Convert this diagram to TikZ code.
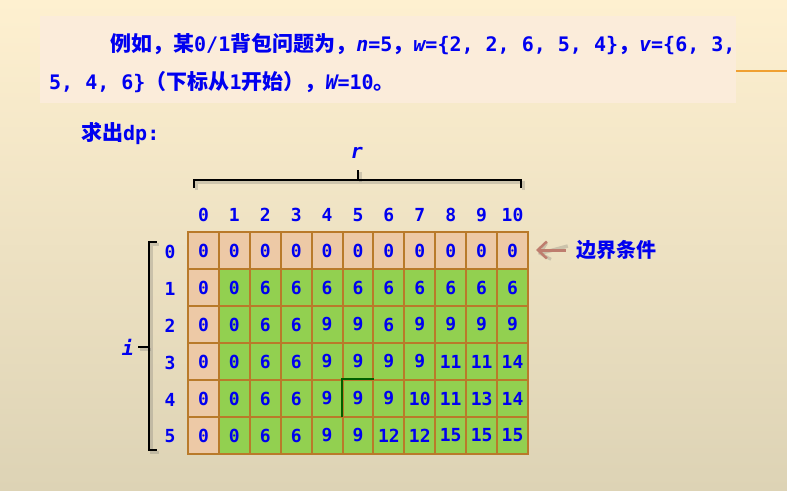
\documentclass[tikz,border=0pt]{standalone}
\usepackage{fontspec}
\usetikzlibrary{arrows.meta}
\newfontfamily\cjkf{Noto Sans CJK SC}
\newfontfamily\monof{DejaVu Sans Mono}
\definecolor{txtblue}{RGB}{0,0,240}
\definecolor{bgtop}{RGB}{254,240,208}
\definecolor{bgmid}{RGB}{244,236,216}
\definecolor{bgbot}{RGB}{221,211,181}
\definecolor{boxbg}{RGB}{251,236,218}
\definecolor{peachc}{RGB}{237,201,166}
\definecolor{greenc}{RGB}{146,208,80}
\definecolor{cellline}{RGB}{185,122,42}
\definecolor{arrowc}{RGB}{190,125,110}
\definecolor{orangeline}{RGB}{240,160,50}
\definecolor{darkgreenc}{RGB}{0,96,0}
\newcommand\zhtxt[1]{{\cjkf\bfseries\fontsize{21}{24}\selectfont #1}}
\newcommand\mntxt[1]{{\monof\bfseries #1}}
\newcommand\mnit[1]{{\monof\bfseries\itshape #1}}
\begin{document}
\begin{tikzpicture}[x=1pt,y=-1pt,
  cell/.style={draw=cellline, line width=2pt, minimum width=30.9pt, minimum height=37pt,
    inner sep=0pt, text=txtblue, font=\monof\bfseries\fontsize{18}{20}\selectfont},
  idx/.style={inner sep=0pt, text=txtblue, font=\monof\bfseries\fontsize{18}{20}\selectfont},
  title/.style={inner sep=0pt, anchor=west, text=txtblue, font=\fontsize{20}{24}\selectfont},
  varlabel/.style={inner sep=0pt, text=txtblue, font=\monof\bfseries\itshape\fontsize{20}{24}\selectfont},
  brace/.style={draw=black, line width=2pt, line join=miter},
  braceshadow/.style={draw=black!60, opacity=0.25, line width=3pt},
  arr/.style={draw=arrowc, line width=3pt, -{Straight Barb[length=9pt,width=17pt,line width=2.5pt]}},
  arrshadow/.style={draw=black!60, opacity=0.25, line width=3.5pt, -{Straight Barb[length=9pt,width=17pt,line width=3pt]}}
]
\useasboundingbox (0,0) rectangle (787,490);
\shade[top color=bgtop, middle color=bgmid, bottom color=bgbot] (0,0) rectangle (787,490);
% text box
\fill[boxbg] (40,16) rectangle (736,103);
\draw[orangeline, line width=1.5pt] (736,71) -- (787,71);
% title
\node[title] (t1) at (110,44) {\zhtxt{例如，某}\mntxt{0/1}\zhtxt{背包问题为，}\mnit{n}\mntxt{=5}\zhtxt{，}\mnit{w}\mntxt{=\{2, 2, 6, 5, 4\}}\zhtxt{，}\mnit{v}\mntxt{=\{6, 3,}};
\node[title] (t2) at (49,82) {\mntxt{5, 4, 6\}}\zhtxt{（下标从}\mntxt{1}\zhtxt{开始），}\mnit{W}\mntxt{=10}\zhtxt{。}};
\node[title] (t3) at (81,134) {\zhtxt{求出}\mntxt{dp:}};
% table cells
\foreach \r/\vals in {0/{0,0,0,0,0,0,0,0,0,0,0},
                      1/{0,0,6,6,6,6,6,6,6,6,6},
                      2/{0,0,6,6,9,9,6,9,9,9,9},
                      3/{0,0,6,6,9,9,9,9,11,11,14},
                      4/{0,0,6,6,9,9,9,10,11,13,14},
                      5/{0,0,6,6,9,9,12,12,15,15,15}}{
  \foreach \v [count=\c from 0] in \vals {
    \ifnum\numexpr\r*\c\relax=0 \def\cf{peachc}\else\def\cf{greenc}\fi
    \node[cell, fill=\cf] (c-\r-\c) at ({188+30.909*(\c+0.5)},{232+37*(\r+0.5)}) {\v};
  }
}
% highlighted cell borders
\draw[darkgreenc, line width=2pt] ([yshift=1pt]c-4-5.south west) -- (c-4-5.north west) -- (c-4-5.north east);
% column labels
\foreach \c in {0,...,10}{
  \node[idx] (col-\c) at ({188+30.909*(\c+0.5)},215) {\c};
}
% row labels
\foreach \r in {0,...,5}{
  \node[idx] (row-\r) at (170,{233+37*(\r+0.5)}) {\r};
}
% top brace
\draw[braceshadow] (196,190) -- (196,182) -- (523,182) -- (523,190);
\draw[braceshadow] (360,182) -- (360,172);
\draw[brace] (194,188) -- (194,180) -- (521,180) -- (521,188);
\draw[brace] (358,180) -- (358,170);
\node[varlabel] (rlab) at (357,153) {r};
% left brace
\draw[braceshadow] (159,244) -- (151,244) -- (151,452) -- (159,452);
\draw[braceshadow] (151,349) -- (140,349);
\draw[brace] (157,242) -- (149,242) -- (149,450) -- (157,450);
\draw[brace] (149,347) -- (138,347);
\node[varlabel] (ilab) at (128,347) {i};
% boundary label and arrow
\node[inner sep=0pt, text=txtblue, font=\cjkf\bfseries\fontsize{20}{24}\selectfont] (blabel) at (616,250) {边界条件};
\coordinate (tip) at (536,250);
\coordinate (tipsh) at (538,254);
\draw[arrshadow] ([xshift=-8pt,yshift=4pt]blabel.west) -- (tipsh);
\draw[arr] ([xshift=-10pt]blabel.west) -- (tip);
\end{tikzpicture}
\end{document}
